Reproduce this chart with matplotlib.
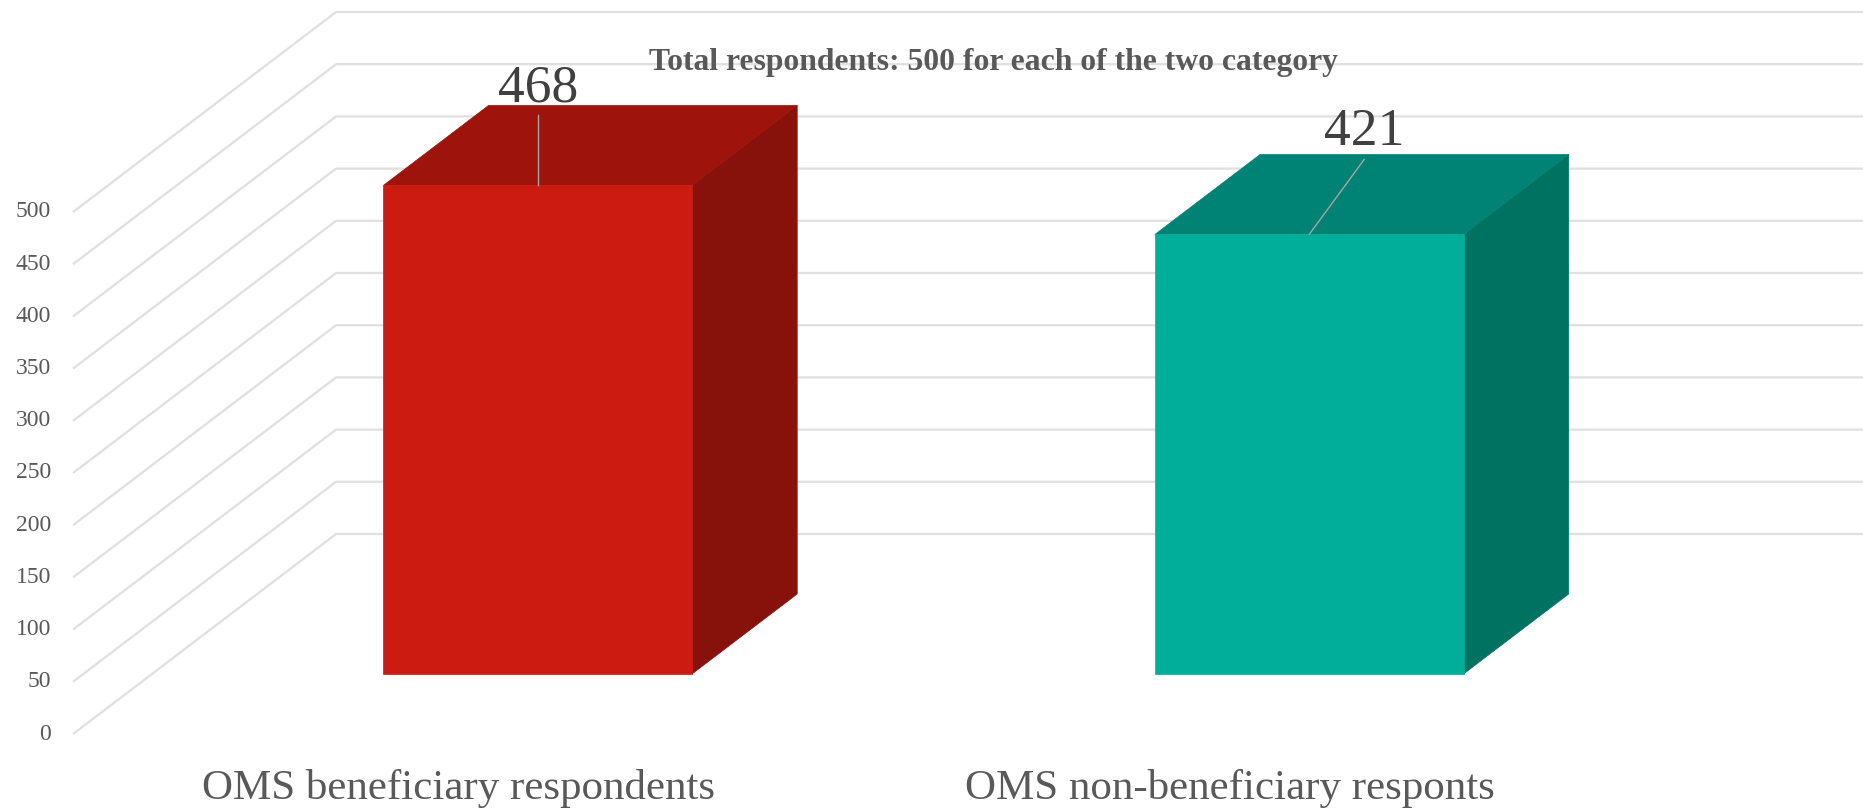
import numpy as np
import matplotlib
matplotlib.use("Agg")
from matplotlib import pyplot as plt
from matplotlib.patches import Polygon

categories = ["OMS beneficiary respondents", "OMS non-beneficiary responts"]
values = [468, 421]
yticks = [0, 50, 100, 150, 200, 250, 300, 350, 400, 450, 500]
title = "Total respondents: 500 for each of the two category"

front_colors = ["#CC1C11", "#00AE99"]
top_colors = ["#9E140C", "#008375"]
side_colors = ["#86120B", "#007262"]

# label leader offsets in pixels (dx, dy up) from the top front edge centre
leader_px = [(0, 70), (55, 75)]

W, H, DPI = 1863, 808, 100
X0_PX, CAT_PX = 458.8, 771.5      # pixel x of category 0, pixels per category
Y0_PX, PX_PER_UNIT = 734.0, 1.044  # pixel y of value 0, pixels per value unit
DEPTH_DX, DEPTH_DY = 263.0, 200.0  # oblique offset of the full floor depth (px)

KX = DEPTH_DX / CAT_PX
KV = DEPTH_DY / PX_PER_UNIT
BAR_W = 0.4
BAR_D = (0.3, 0.7)


def proj(x, v, d):
    return (x + d * KX, v + d * KV)


fig = plt.figure(figsize=(W / DPI, H / DPI), dpi=DPI)
ax = fig.add_axes([0, 0, 1, 1])
ax.set_xlim(-X0_PX / CAT_PX, (W - X0_PX) / CAT_PX)
ax.set_ylim((Y0_PX - H) / PX_PER_UNIT, Y0_PX / PX_PER_UNIT)
ax.axis("off")

serif = ["Liberation Serif", "DejaVu Serif"]
grid_c = "#E0E0E0"
xl = -0.5
xr = ax.get_xlim()[1] + 0.1

# side wall diagonals + back wall gridlines
for t in yticks:
    fx, fy = proj(xl, t, 0)
    bx, by = proj(xl, t, 1)
    ax.plot([fx, bx, xr], [fy, by, by], color=grid_c, lw=1.6,
            solid_capstyle="butt", zorder=1)
    ax.text(xl - 22 / CAT_PX, t, str(t), ha="right", va="center",
            fontsize=17, color="#595959", family=serif)

# 3d bars
for i, v in enumerate(values):
    x0, x1 = i - BAR_W / 2, i + BAR_W / 2
    d0, d1 = BAR_D
    side = [proj(x1, 0, d0), proj(x1, 0, d1), proj(x1, v, d1), proj(x1, v, d0)]
    top = [proj(x0, v, d0), proj(x1, v, d0), proj(x1, v, d1), proj(x0, v, d1)]
    front = [proj(x0, 0, d0), proj(x1, 0, d0), proj(x1, v, d0), proj(x0, v, d0)]
    for pts, c in [(side, side_colors[i]), (top, top_colors[i]), (front, front_colors[i])]:
        ax.add_patch(Polygon(pts, closed=True, facecolor=c, edgecolor=c,
                             lw=0.5, zorder=3))

    # value label with leader line
    sx, sy = proj(i, v, d0)
    dx, dy = leader_px[i]
    ex, ey = sx + dx / CAT_PX, sy + dy / PX_PER_UNIT
    ax.plot([sx, ex], [sy, ey], color="#A6A6A6", lw=1.0, zorder=4)
    ax.text(ex, ey + 14 / PX_PER_UNIT, str(v), ha="center", va="baseline",
            fontsize=38.5, color="#404040", family=serif, zorder=5)

# category labels
for i, c in enumerate(categories):
    ax.text(i, (Y0_PX - 799) / PX_PER_UNIT, c, ha="center", va="baseline",
            fontsize=31, color="#595959", family=serif)

ax.text((993 - X0_PX) / CAT_PX, (Y0_PX - 63) / PX_PER_UNIT, title,
        ha="center", va="center", fontsize=22.8, fontweight="bold",
        color="#595959", family=serif, zorder=5)

fig.savefig("out.png", dpi=DPI)
